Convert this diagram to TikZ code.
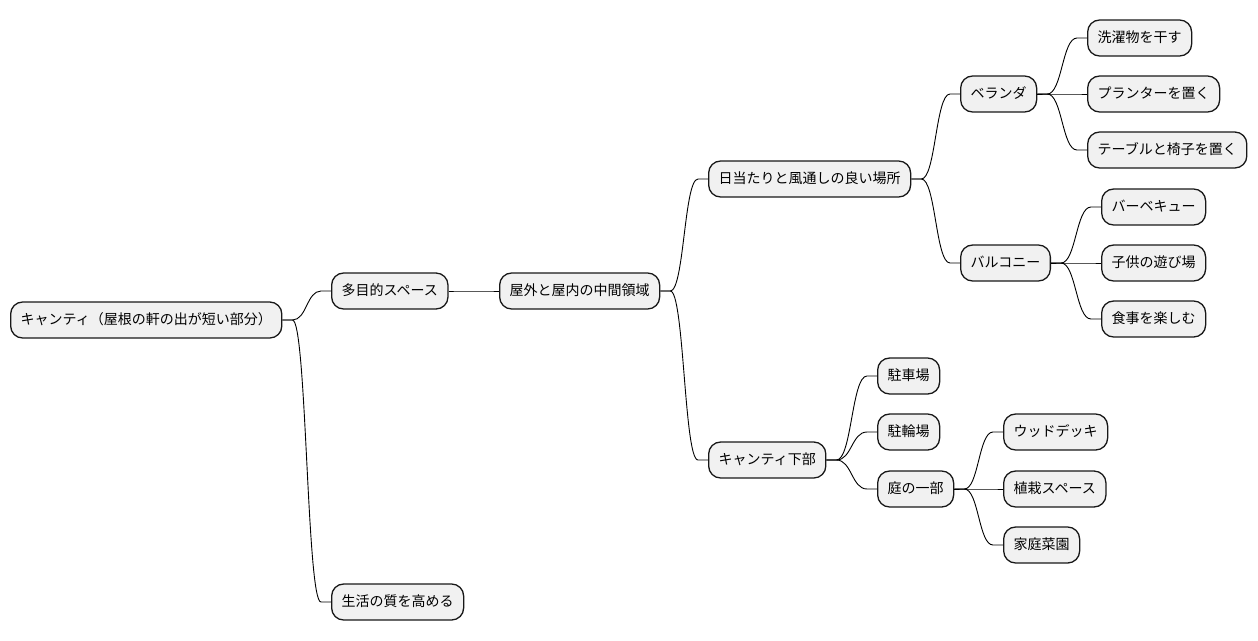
\documentclass[tikz,border=0pt]{standalone}
\usepackage{fontspec}
\setmainfont{Noto Sans CJK JP}
\usetikzlibrary{calc}
\definecolor{nodefill}{HTML}{F1F1F1}
\definecolor{nodeline}{HTML}{181818}
\tikzset{
  mm/.style={draw=nodeline, fill=nodefill, line width=1.3pt, rounded corners=12pt,
    minimum height=36pt, inner xsep=10pt, inner ysep=0pt, anchor=west,
    font=\fontsize{14pt}{16pt}\selectfont, text height=10.5pt, text depth=2pt},
  link/.style={draw=black, line width=0.9pt}
}
\newcommand{\mmlink}[2]{%
  \draw[link] let \p1=(#1.east), \p2=(#2.west) in
    (\p1) -- (\x1+10pt,\y1) .. controls ({(\x1+\x2)/2},\y1) and ({(\x1+\x2)/2},\y2) .. (\x2-10pt,\y2) -- (\p2);}
\begin{document}
\begin{tikzpicture}[x=1pt,y=1pt]
\useasboundingbox (0,0) rectangle (1258,-640);
\node[mm] (root) at (10,-320) {キャンティ（屋根の軒の出が短い部分）};
\node[mm] (tamoku) at (331,-291) {多目的スペース};
\node[mm] (seikatsu) at (331,-602) {生活の質を高める};
\node[mm] (chukan) at (499,-291) {屋外と屋内の中間領域};
\node[mm] (hiatari) at (708,-179) {日当たりと風通しの良い場所};
\node[mm] (kabu) at (708,-460) {キャンティ下部};
\node[mm] (beranda) at (960,-94) {ベランダ};
\node[mm] (barukoni) at (960,-263) {バルコニー};
\node[mm] (sentaku) at (1087,-38) {洗濯物を干す};
\node[mm] (planter) at (1087,-94) {プランターを置く};
\node[mm] (table) at (1087,-150) {テーブルと椅子を置く};
\node[mm] (bbq) at (1101,-207) {バーベキュー};
\node[mm] (kodomo) at (1101,-263) {子供の遊び場};
\node[mm] (shokuji) at (1101,-319) {食事を楽しむ};
\node[mm] (chusha) at (877,-376) {駐車場};
\node[mm] (chulin) at (877,-432) {駐輪場};
\node[mm] (niwa) at (877,-489) {庭の一部};
\node[mm] (wood) at (1003,-432) {ウッドデッキ};
\node[mm] (shokusai) at (1003,-489) {植栽スペース};
\node[mm] (saien) at (1003,-545) {家庭菜園};
\mmlink{root}{tamoku}
\mmlink{root}{seikatsu}
\mmlink{tamoku}{chukan}
\mmlink{chukan}{hiatari}
\mmlink{chukan}{kabu}
\mmlink{hiatari}{beranda}
\mmlink{hiatari}{barukoni}
\mmlink{beranda}{sentaku}
\mmlink{beranda}{planter}
\mmlink{beranda}{table}
\mmlink{barukoni}{bbq}
\mmlink{barukoni}{kodomo}
\mmlink{barukoni}{shokuji}
\mmlink{kabu}{chusha}
\mmlink{kabu}{chulin}
\mmlink{kabu}{niwa}
\mmlink{niwa}{wood}
\mmlink{niwa}{shokusai}
\mmlink{niwa}{saien}
\end{tikzpicture}
\end{document}
